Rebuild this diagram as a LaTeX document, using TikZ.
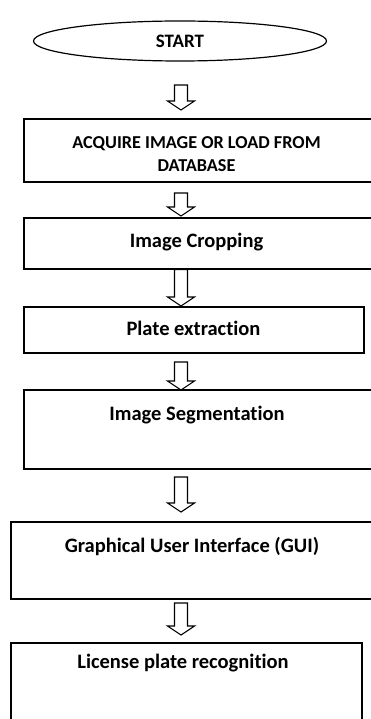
\documentclass[tikz,border=0pt]{standalone}
\usepackage{fontspec}
\setmainfont{Carlito}[RawFeature={-liga}]
\usetikzlibrary{calc,shapes.geometric}

\tikzset{
  flowbox/.style={draw, rectangle, line width=1.6pt, inner sep=0pt, anchor=north west},
  startshape/.style={draw, ellipse, line width=1.2pt, inner sep=0pt,
    minimum width=293pt, minimum height=40pt},
  steptext/.style={font=\fontsize{20.5}{24}\selectfont\bfseries, align=center,
    inner sep=0pt, anchor=base},
  captext/.style={steptext, font=\fontsize{18.2}{23.4}\selectfont\bfseries},
  hollow/.style={draw, line width=1.1pt, fill=white, line join=miter},
}

% hollow block arrow pointing down from #1 (top middle) to #2 (tip)
\newcommand{\hollowarrow}[2]{%
  \draw[hollow] let \p1=(#1), \p2=(#2) in
    (\x1-6.5pt,\y1) -- (\x1-6.5pt,\y2+9pt) -- (\x1-13.5pt,\y2+9pt) -- (\x2,\y2)
    -- (\x1+13.5pt,\y2+9pt) -- (\x1+6.5pt,\y2+9pt) -- (\x1+6.5pt,\y1) -- cycle;}

\begin{document}
\begin{tikzpicture}[x=1pt,y=-1pt]
\clip (0,0) rectangle (371,719);
\fill[white] (0,0) rectangle (371,719);

% terminal
\node[startshape] (start) at (180,41) {};
\node[captext, font=\fontsize{19}{23}\selectfont\bfseries] (startt) at (180,47.5) {START};

% process boxes
\node[flowbox, minimum width=349pt, minimum height=63.5pt] (acq) at (23,118) {};
\node[captext] (acqt) at (196.5,172) {ACQUIRE IMAGE OR LOAD FROM\\DATABASE};

\node[flowbox, minimum width=349pt, minimum height=51pt] (crop) at (23,217) {};
\node[steptext] (cropt) at (196.5,247) {Image Cropping};

\node[flowbox, minimum width=340pt, minimum height=46pt] (plate) at (23,306) {};
\node[steptext] (platet) at (193.5,335) {Plate extraction};

\node[flowbox, minimum width=349pt, minimum height=79pt] (seg) at (23,389) {};
\node[steptext] (segt) at (197,420) {Image Segmentation};

\node[flowbox, minimum width=362pt, minimum height=77pt] (gui) at (10,521) {};
\node[steptext] (guit) at (192,552) {Graphical User Interface (GUI)};

\node[flowbox, minimum width=351pt, minimum height=90pt] (lpr) at (10,642) {};
\node[steptext] (lprt) at (183,668) {License plate recognition};

% arrow end points
\coordinate (col) at (181,0);
\coordinate (a1s) at (181,85);  \coordinate (a1e) at (181,110);
\coordinate (a2s) at (181,193); \coordinate (a2e) at (181,216);
\coordinate (a3s) at (col |- crop.south); \coordinate (a3e) at (col |- plate.north);
\coordinate (a4s) at (181,362); \coordinate (a4e) at (181,390);
\coordinate (a5s) at (181,477); \coordinate (a5e) at (181,512);
\coordinate (a6s) at (181,603); \coordinate (a6e) at (181,635);

\hollowarrow{a1s}{a1e}
\hollowarrow{a2s}{a2e}
\hollowarrow{a3s}{a3e}
\hollowarrow{a4s}{a4e}
\hollowarrow{a5s}{a5e}
\hollowarrow{a6s}{a6e}
\end{tikzpicture}
\end{document}
